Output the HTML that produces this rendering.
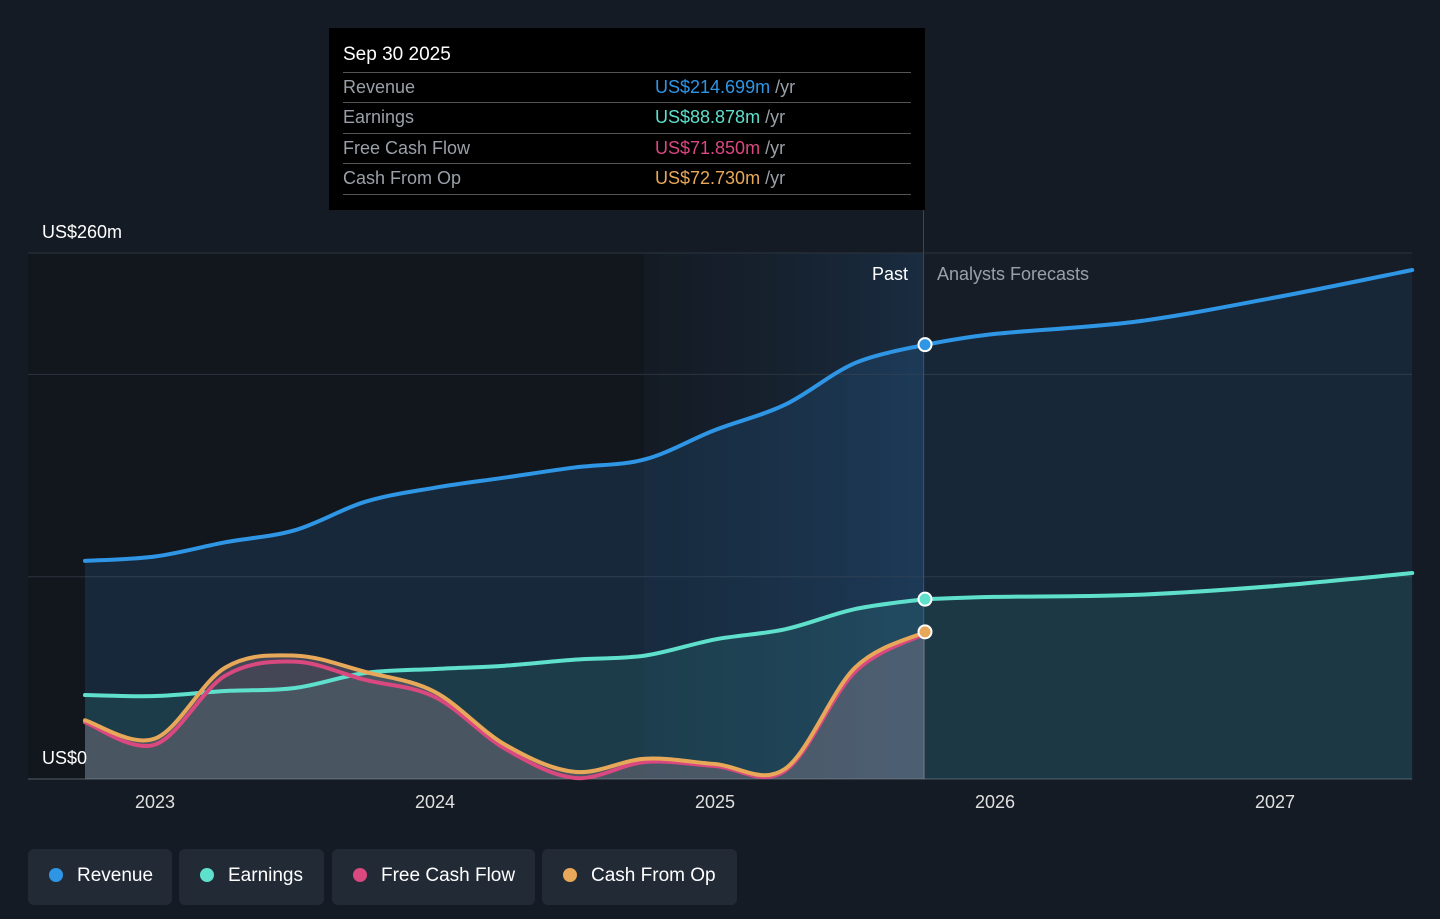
<!DOCTYPE html>
<html><head><meta charset="utf-8"><style>
body{margin:0;width:1440px;height:919px;background:#151b24;font-family:"Liberation Sans",sans-serif;overflow:hidden;position:relative}
svg{position:absolute;left:0;top:0}
.tip{position:absolute;left:329px;top:28px;width:596px;height:182px;background:#000;color:#fff}
.tip .h{position:absolute;left:14px;top:16px;font-size:19px}
.row{position:absolute;left:14px;width:568px;height:30px;border-top:1px solid #555;font-size:18px;line-height:28px;color:#9aa0a8}
.row span.v{position:absolute;left:312px}
.row span.u{color:#9aa0a8}
.leg{position:absolute;top:849px;height:56px;background:#222a35;border-radius:6px;color:#fff;font-size:19px;line-height:54px}
.leg i{position:absolute;left:21px;top:19px;width:14px;height:14px;border-radius:50%}
.leg span{position:absolute;left:49px}
</style></head><body>
<svg id="c" width="1440" height="919"></svg>
<div class="tip">
<div class="h">Sep 30 2025</div>
<div class="row" style="top:44px">Revenue<span class="v"><b style="color:#2f96e6;font-weight:normal">US$214.699m</b> <span class="u">/yr</span></span></div>
<div class="row" style="top:74px">Earnings<span class="v"><b style="color:#5ee0cc;font-weight:normal">US$88.878m</b> <span class="u">/yr</span></span></div>
<div class="row" style="top:105px">Free Cash Flow<span class="v"><b style="color:#d9487f;font-weight:normal">US$71.850m</b> <span class="u">/yr</span></span></div>
<div class="row" style="top:135px;border-bottom:1px solid #555">Cash From Op<span class="v"><b style="color:#e8a85a;font-weight:normal">US$72.730m</b> <span class="u">/yr</span></span></div>
</div>
<div class="leg" style="left:28px;width:144px"><i style="background:#2f96e6"></i><span>Revenue</span></div>
<div class="leg" style="left:179px;width:145px"><i style="background:#5ee0cc"></i><span>Earnings</span></div>
<div class="leg" style="left:332px;width:203px"><i style="background:#d9487f"></i><span>Free Cash Flow</span></div>
<div class="leg" style="left:542px;width:195px"><i style="background:#e8a85a"></i><span>Cash From Op</span></div>
<script>
const pastT=[2022.75,2023,2023.25,2023.5,2023.75,2024,2024.25,2024.5,2024.75,2025,2025.25,2025.5,2025.75];
const fcT=[2025.75,2026,2026.5,2027,2027.49];
const revenue=[107.8,110,117,123,137,144,149,154,158,172.5,185,205.6,214.7];
const revenueF=[214.7,220,226,238,251.6];
const earnings=[41.5,41,43.5,45,52.4,54.4,56,59,61,69,74,84,88.9];
const earningsF=[88.9,90,91,95.4,101.8];
const fcf=[28,17,51,58,49,40.5,15,0.5,8.4,6.4,4,53,71.85];
const cfo=[29,20,55,61,53,43,17,3.5,10,7.4,5,55,72.73];
const yTicks=[0,100,200,260];
const xTicks=[2023,2024,2025,2026,2027];
const X=t=>155+(t-2023)*280, Y=v=>779-v*526/260;
const svg=document.getElementById('c'),NS='http://www.w3.org/2000/svg';
function mk(tag,a,name){const e=document.createElementNS(NS,tag);for(const k in a)e.setAttribute(k,a[k]);


svg.appendChild(e);return e;}
function path(ts,vs){const p=ts.map((t,i)=>[X(t),Y(vs[i])]);let d=`M${p[0][0]},${p[0][1]}`;
for(let i=0;i<p.length-1;i++){const p0=p[Math.max(0,i-1)],p1=p[i],p2=p[i+1],p3=p[Math.min(p.length-1,i+2)];
const c1=[p1[0]+(p2[0]-p0[0])/6,p1[1]+(p2[1]-p0[1])/6],c2=[p2[0]-(p3[0]-p1[0])/6,p2[1]-(p3[1]-p1[1])/6];
d+=`C${c1[0]},${c1[1]} ${c2[0]},${c2[1]} ${p2[0]},${p2[1]}`;}return d;}
const defs=mk('defs',{},'defs');
defs.innerHTML='<linearGradient id="hl" x1="0" x2="1"><stop offset="0" stop-color="#1a2a3c" stop-opacity="0.2"/><stop offset="1" stop-color="#1e3a58" stop-opacity="0.6"/></linearGradient>';
mk('rect',{x:28,y:253,width:895,height:526,fill:'#12171e'},'past-region');
mk('rect',{x:644,y:253,width:279,height:526,fill:'url(#hl)'},'highlight-region');
mk('rect',{x:923,y:253,width:489,height:526,fill:'#161d27'},'forecast-region');
yTicks.forEach(v=>mk('line',{x1:28,x2:1412,y1:Y(v),y2:Y(v),stroke:v==0?'#555c66':'#2c343f','stroke-width':1},'gridline-'+v));
mk('line',{x1:923.5,x2:923.5,y1:210,y2:779,stroke:'#2c4a6a'},'now-line');
const base=Y(0);
function area(ts,vs,fill,op,name){const d=path(ts,vs);mk('path',{d:d+`L${X(ts[ts.length-1])},${base}L${X(ts[0])},${base}Z`,fill,'fill-opacity':op},name);}
area(pastT,revenue,'#2f80d0',0.16,'revenue-area');area(fcT,revenueF,'#2f80d0',0.1,'revenue-forecast-area');
area(pastT,earnings,'#3fb8a8',0.14,'earnings-area');area(fcT,earningsF,'#3fb8a8',0.12,'earnings-forecast-area');
area(pastT,cfo,'#d0a0a8',0.25,'cfo-area');
function line(ts,vs,c,name){mk('path',{d:path(ts,vs),fill:'none',stroke:c,'stroke-width':4,'stroke-linecap':'round'},name);}
line(pastT,revenue,'#2f96e6','revenue-line');line(fcT,revenueF,'#2f96e6','revenue-forecast-line');
line(pastT,earnings,'#5ee0cc','earnings-line');line(fcT,earningsF,'#5ee0cc','earnings-forecast-line');
line(pastT,fcf,'#d9487f','fcf-line');line(pastT,cfo,'#e8a85a','cfo-line');
[[revenue,'#2f96e6'],[earnings,'#5ee0cc'],[cfo,'#e8a85a']].forEach(([a,c],i)=>mk('circle',{cx:X(2025.75),cy:Y(a[a.length-1]),r:6.5,fill:c,stroke:'#fff','stroke-width':2},'end-point-'+i));
xTicks.forEach(t=>{const e=mk('text',{x:X(t),y:808,fill:'#e0e0e0','font-size':18,'text-anchor':'middle'},'x-tick-'+t);e.textContent=t;});
let e=mk('text',{x:42,y:238,fill:'#fff','font-size':18},'y-label-top');e.textContent='US$260m';
e=mk('text',{x:42,y:764,fill:'#fff','font-size':18},'y-label-zero');e.textContent='US$0';
e=mk('text',{x:908,y:280,fill:'#fff','font-size':18,'text-anchor':'end'},'past-label');e.textContent='Past';
e=mk('text',{x:937,y:280,fill:'#9aa0a8','font-size':18},'forecast-label');e.textContent='Analysts Forecasts';
</script>
</body></html>
